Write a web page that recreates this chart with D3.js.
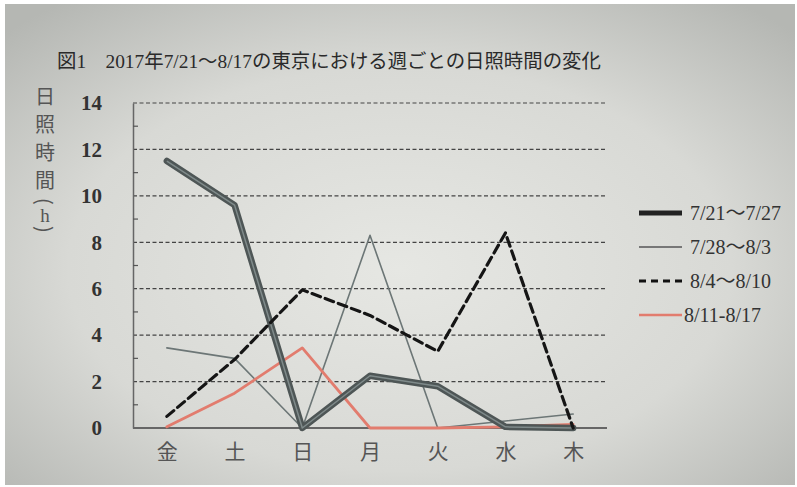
<!DOCTYPE html>
<html>
<head>
<meta charset="utf-8">
<script src="https://cdn.jsdelivr.net/npm/d3@7"></script>
<style>
  html, body { margin: 0; padding: 0; background: #fff; }
  svg { display: block; }
</style>
</head>
<body>
<svg id="chart" width="797" height="487"></svg>
<script>
const days = ["金", "土", "日", "月", "火", "水", "木"];
const yTicks = [0, 2, 4, 6, 8, 10, 12, 14];
const weekNames = ["7/21～7/27", "7/28～8/3", "8/4～8/10", "8/11-8/17"];
const week1 = [11.5, 9.6, 0, 2.25, 1.8, 0.05, 0];
const week2 = [3.45, 3.0, 0, 8.3, 0, 0.3, 0.6];
const week3 = [0.5, 2.95, 5.95, 4.85, 3.3, 8.4, 0];
const week4 = [0.05, 1.5, 3.45, 0, 0, 0.05, 0.15];

const svg = d3.select("#chart");
const width = 797, height = 487;
const plotLeft = 133, plotRight = 607, plotTop = 103, plotBottom = 428;

// photo-like background
const defs = svg.append("defs");
const grad = defs.append("radialGradient")
  .attr("id", "bg").attr("cx", "50%").attr("cy", "55%").attr("r", "70%");
grad.append("stop").attr("offset", "0%").attr("stop-color", "#e6e7e3");
grad.append("stop").attr("offset", "60%").attr("stop-color", "#d8d9d5");
grad.append("stop").attr("offset", "100%").attr("stop-color", "#b5b7b3");

svg.append("rect").attr("width", width).attr("height", height).attr("fill", "#fff");
svg.append("rect").attr("x", 5).attr("y", 4).attr("width", width - 7).attr("height", height - 6)
  .attr("fill", "url(#bg)");

const x = d3.scalePoint().domain(days).range([plotLeft, plotRight]).padding(0.5);
const y = d3.scaleLinear().domain([0, 14]).range([plotBottom, plotTop]);

// title
svg.append("text")
  .attr("x", 57).attr("y", 68)
  .attr("font-family", "'Liberation Serif', 'Noto Sans CJK JP', serif")
  .attr("font-size", 19.4)
  .attr("fill", "#2a2a2a")
  .text("図1\u20032017年7/21～8/17の東京における週ごとの日照時間の変化");

// grid lines
svg.append("g")
  .selectAll("line")
  .data(yTicks.filter(d => d > 0))
  .join("line")
  .attr("x1", plotLeft).attr("x2", plotRight)
  .attr("y1", d => y(d)).attr("y2", d => y(d))
  .attr("stroke", "#444").attr("stroke-width", 1.2)
  .attr("stroke-dasharray", "4,2.5");

// y axis with minor ticks inside
const yAxis = d3.axisLeft(y).tickValues(yTicks).tickSize(0).tickPadding(31);
const gy = svg.append("g").attr("transform", `translate(${plotLeft},0)`).call(yAxis);
gy.select(".domain").attr("stroke", "#666").attr("stroke-width", 1.5);
gy.selectAll("text")
  .attr("font-family", "'Liberation Serif', serif")
  .attr("font-size", 21).attr("font-weight", "bold")
  .attr("fill", "#333");

svg.append("g")
  .selectAll("line")
  .data(d3.range(1, 14, 2))
  .join("line")
  .attr("x1", plotLeft).attr("x2", plotLeft + 5)
  .attr("y1", d => y(d)).attr("y2", d => y(d))
  .attr("stroke", "#555").attr("stroke-width", 1.2);

// x axis
const xAxis = d3.axisBottom(x).tickSize(0).tickPadding(16);
const gx = svg.append("g").attr("transform", `translate(0,${plotBottom})`).call(xAxis);
gx.select(".domain").attr("d", `M${plotLeft},0H${plotRight}`).attr("stroke", "#666").attr("stroke-width", 1.8);
gx.selectAll("text")
  .attr("font-family", "'Noto Sans CJK JP', sans-serif")
  .attr("font-size", 21).attr("fill", "#555");

// y axis title (vertical)
const yTitle = svg.append("text")
  .attr("x", 45).attr("y", 86)
  .attr("font-family", "'Noto Sans CJK JP', sans-serif")
  .attr("font-size", 20).attr("fill", "#555")
  .style("writing-mode", "vertical-rl");
yTitle.append("tspan").attr("letter-spacing", 8).text("日照時間");
yTitle.append("tspan").text("(");
yTitle.append("tspan").attr("font-family", "'Liberation Serif', serif")
  .attr("font-size", 19).style("text-orientation", "upright").text("h");
yTitle.append("tspan").text(")");

const line = d3.line().x((d, i) => x(days[i])).y(d => y(d));

const series = [
  { name: weekNames[1], values: week2, stroke: "#6c7676", width: 1.6, dash: null },
  { name: weekNames[3], values: week4, stroke: "#e27c6e", width: 2.8, dash: null },
  { name: weekNames[0], values: week1, stroke: "#4e5656", width: 6.5, dash: null, inner: "#7f8a8a" },
  { name: weekNames[2], values: week3, stroke: "#151515", width: 3.2, dash: "9,5" }
];

series.forEach(s => {
  svg.append("path")
    .datum(s.values)
    .attr("d", line)
    .attr("fill", "none")
    .attr("stroke", s.stroke)
    .attr("stroke-width", s.width)
    .attr("stroke-linejoin", "round")
    .attr("stroke-linecap", "round")
    .attr("stroke-dasharray", s.dash);
  if (s.inner) {
    svg.append("path")
      .datum(s.values)
      .attr("d", line)
      .attr("fill", "none")
      .attr("stroke", s.inner)
      .attr("stroke-width", 1.5)
      .attr("stroke-linejoin", "round");
  }
});

// legend
const legendItems = [
  { name: weekNames[0], stroke: "#222", width: 5, dash: null },
  { name: weekNames[1], stroke: "#777", width: 1.8, dash: null },
  { name: weekNames[2], stroke: "#111", width: 3, dash: "7,5" },
  { name: weekNames[3], stroke: "#e27c6e", width: 2.5, dash: null }
];
const lg = svg.append("g").attr("transform", "translate(637,213)");
const li = lg.selectAll("g").data(legendItems).join("g")
  .attr("transform", (d, i) => `translate(0,${i * 34})`);
li.append("line")
  .attr("x1", 2).attr("x2", 45)
  .attr("stroke", d => d.stroke)
  .attr("stroke-width", d => d.width)
  .attr("stroke-dasharray", d => d.dash);
li.append("text")
  .attr("x", (d, i) => i === 3 ? 47 : 53).attr("y", 7)
  .attr("font-family", "'Liberation Serif', 'Noto Sans CJK JP', serif")
  .attr("font-size", 20)
  .attr("fill", "#333")
  .text(d => d.name);
</script>
</body>
</html>
